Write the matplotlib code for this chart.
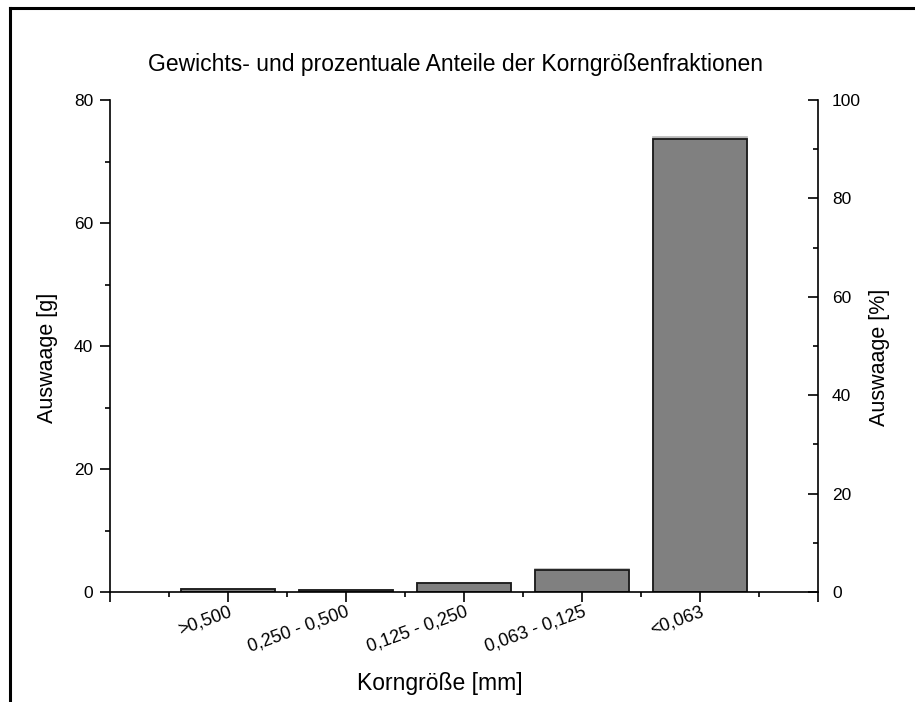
import matplotlib
import matplotlib.pyplot as plt
from matplotlib.lines import Line2D
matplotlib.use('Agg')

plt.rcParams['font.family'] = ['Liberation Sans', 'DejaVu Sans']

# Daten
fraktionen = ['>0,500', '0,250 - 0,500', '0,125 - 0,250', '0,063 - 0,125', '<0,063']
auswaage_g = [0.55, 0.35, 1.45, 3.65, 73.6]
auswaage_proz = [0.7, 0.4, 1.8, 4.6, 92.5]

pos = list(range(1, len(fraktionen) + 1))

fig = plt.figure(figsize=(9.15, 7.02), dpi=100)
ax = fig.add_axes([110 / 915, 110 / 702, 708 / 915, 492 / 702])
ax2 = ax.twinx()

# Prozent-Balken hinten, Gramm-Balken vorne
ax2.bar(pos, auswaage_proz, width=0.8, color='#b8b8b8', edgecolor='#b8b8b8', linewidth=1.2)
ax.bar(pos, auswaage_g, width=0.8, color='#808080', edgecolor='#1a1a1a', linewidth=1.3)
ax.set_zorder(ax2.get_zorder() + 1)
ax.patch.set_visible(False)

ax.set_xlim(0, 6)
ax.set_ylim(0, 80)
ax2.set_ylim(0, 100)

ax.set_xticks([0] + pos + [6])
ax.set_xticklabels([''] + fraktionen + [''], rotation=20, ha='right', va='top',
                   rotation_mode='anchor', fontsize=13)
ax.set_xticks([p - 0.5 for p in pos] + [5.5], minor=True)
ax.set_yticks([0, 20, 40, 60, 80])
ax.set_yticks([10, 30, 50, 70], minor=True)
ax2.set_yticks([0, 20, 40, 60, 80, 100])
ax2.set_yticks([10, 30, 50, 70, 90], minor=True)

for s in ['top', 'right']:
    ax.spines[s].set_visible(False)
for s in ['top', 'left', 'bottom']:
    ax2.spines[s].set_visible(False)
for s in ['left', 'bottom']:
    ax.spines[s].set_linewidth(1.2)
ax2.spines['right'].set_linewidth(1.2)

ax.tick_params(axis='both', which='major', direction='out', length=7, width=1.2)
ax.tick_params(axis='both', which='minor', direction='out', length=3.5, width=1.2)
ax.tick_params(axis='y', which='major', labelsize=12.5, pad=5)
ax.tick_params(axis='x', which='major', pad=1)
ax2.tick_params(axis='y', which='major', direction='in', length=7, width=1.2, labelsize=12.5, pad=10)
ax2.tick_params(axis='y', which='minor', direction='in', length=3.5, width=1.2)

# Achsenbeschriftungen
fig.text(48 / 915, 1 - 358 / 702, 'Auswaage [g]', rotation=90, ha='center', va='center', fontsize=15.5)
fig.text(879 / 915, 1 - 357 / 702, 'Auswaage [%]', rotation=90, ha='center', va='center', fontsize=15.5)
fig.text(440 / 915, 1 - 690 / 702, 'Korngröße [mm]', ha='center', va='baseline', fontsize=16.5)

fig.text(456 / 915, 1 - 64 / 702, 'Gewichts- und prozentuale Anteile der Korngrößenfraktionen',
         ha='center', va='center', fontsize=16.5)

# Rahmen links und oben
fig.add_artist(Line2D([10 / 915, 10 / 915], [0, 1 - 8 / 702], color='black', linewidth=2.2))
fig.add_artist(Line2D([10 / 915, 1], [1 - 8 / 702, 1 - 8 / 702], color='black', linewidth=2.2))

fig.savefig('out.png', dpi=100)
